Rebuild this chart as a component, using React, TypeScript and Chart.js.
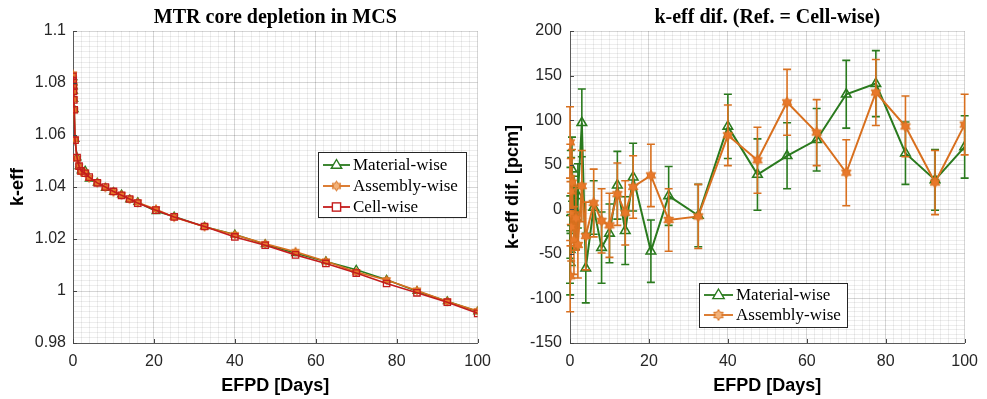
import React, { useEffect, useRef } from 'react';
import { Chart, registerables } from 'chart.js';
Chart.register(...registerables);

// ---------------- data ----------------
const EFPD = [0, 0.04, 0.08, 0.12, 0.2, 0.3, 0.5, 1, 1.5, 2, 3, 4, 6, 8, 10, 12, 14, 16, 20.5, 25, 32.5, 40, 47.5, 55, 62.5, 70, 77.5, 85, 92.5, 100];

const keffCell = [1.0826, 1.0808, 1.0788, 1.0768, 1.0735, 1.0697, 1.058, 1.0513, 1.048, 1.0462, 1.0453, 1.0438, 1.0416, 1.04, 1.0383, 1.0368, 1.0354, 1.0338, 1.0311, 1.0285, 1.0248, 1.0208, 1.0176, 1.0139, 1.0106, 1.0069, 1.0029, 0.9993, 0.9957, 0.9914];
const keffMaterial = [1.08215, 1.0802, 1.0786, 1.0769, 1.0738, 1.0699, 1.05845, 1.0513, 1.0479, 1.04635, 1.04627, 1.04314, 1.04162, 1.03957, 1.03803, 1.03707, 1.03516, 1.03416, 1.03063, 1.02865, 1.02473, 1.02173, 1.01799, 1.0145, 1.01138, 1.00819, 1.00431, 0.99993, 0.99603, 0.9921];
const keffAssembly = [1.08335, 1.08005, 1.07915, 1.07675, 1.0737, 1.0695, 1.0583, 1.05095, 1.0479, 1.0458, 1.04556, 1.0435, 1.04167, 1.03987, 1.03812, 1.03697, 1.03536, 1.03405, 1.03148, 1.02838, 1.02472, 1.02163, 1.01815, 1.0151, 1.01146, 1.00731, 1.00421, 1.00023, 0.996, 0.99235];

const difMaterial = [-45, -60, -20, 10, 30, 20, 45, 0, -10, 15, 97, -66, 2, -43, -27, 27, -24, 36, -47, 15, -7, 93, 39, 60, 78, 129, 141, 63, 33, 70];
const errMaterial = [38, 36, 35, 37, 36, 38, 36, 37, 35, 36, 38, 39, 30, 40, 33, 38, 38, 38, 35, 33, 35, 36, 40, 37, 35, 38, 37, 35, 34, 35];
const difAssembly = [75, -75, 35, -5, 20, -20, 30, -35, -10, -40, 26, -30, 7, -13, -18, 17, -4, 25, 38, -12, -8, 83, 55, 120, 86, 41, 131, 93, 30, 95];
const errAssembly = [40, 40, 38, 36, 37, 38, 37, 38, 36, 37, 40, 38, 38, 36, 36, 35, 36, 35, 35, 35, 36, 34, 37, 37, 37, 37, 37, 34, 36, 34];

const X_MAJOR = [0, 20, 40, 60, 80, 100];
const KEFF_MAJOR = [0.98, 1, 1.02, 1.04, 1.06, 1.08, 1.1];
const DIF_MAJOR = [-150, -100, -50, 0, 50, 100, 150, 200];

const SERIES = ['Material-wise', 'Assembly-wise', 'Cell-wise'];

// ---------------- styles ----------------
const GREEN = '#2a7a1e';
const ORANGE = '#d8701f';
const ORANGE_FILL = '#e8782a';
const RED = '#c41c1c';
const TEXT = '#262626';
const SANS = "'Liberation Sans', Arial, sans-serif";
const SERIF = "'Liberation Serif', 'Times New Roman', serif";

function hexagram(r: number, fill: string, stroke: string) {
  const c = document.createElement('canvas');
  const s = Math.ceil(r * 2 + 3);
  c.width = s;
  c.height = s;
  const g = c.getContext('2d')!;
  g.beginPath();
  for (let k = 0; k < 12; k++) {
    const ang = -Math.PI / 2 + (k * Math.PI) / 6;
    const rr = k % 2 === 0 ? r : r * 0.577;
    g.lineTo(s / 2 + rr * Math.cos(ang), s / 2 + rr * Math.sin(ang));
  }
  g.closePath();
  g.fillStyle = fill;
  g.fill();
  g.strokeStyle = stroke;
  g.lineWidth = 1;
  g.stroke();
  return c;
}

const near = (v: number, arr: number[]) => arr.some((a) => Math.abs(a - v) < 1e-9);

const errorBarPlugin = {
  id: 'errorBars',
  beforeDatasetDraw(chart: any, args: any) {
    const ds = chart.data.datasets[args.index];
    if (!ds.errors) return;
    const xs = chart.scales.x;
    const ys = chart.scales.y;
    const ctx = chart.ctx;
    const a = chart.chartArea;
    ctx.save();
    ctx.beginPath();
    ctx.rect(a.left - 6, a.top, a.right - a.left + 12, a.bottom - a.top);
    ctx.clip();
    ctx.strokeStyle = ds.borderColor;
    ctx.lineWidth = 1.6;
    ds.data.forEach((p: any, i: number) => {
      const px = xs.getPixelForValue(p.x);
      const yt = ys.getPixelForValue(p.y + ds.errors[i]);
      const yb = ys.getPixelForValue(p.y - ds.errors[i]);
      ctx.beginPath();
      ctx.moveTo(px, yt);
      ctx.lineTo(px, yb);
      ctx.moveTo(px - 4, yt);
      ctx.lineTo(px + 4, yt);
      ctx.moveTo(px - 4, yb);
      ctx.lineTo(px + 4, yb);
      ctx.stroke();
    });
    ctx.restore();
  },
};

const tickMarkPlugin = {
  id: 'tickMarks',
  afterDatasetsDraw(chart: any, _args: any, opts: any) {
    const ctx = chart.ctx;
    const a = chart.chartArea;
    const xs = chart.scales.x;
    const ys = chart.scales.y;
    ctx.save();
    ctx.strokeStyle = '#444';
    ctx.lineWidth = 1;
    ctx.beginPath();
    opts.xMajor.forEach((v: number) => {
      const px = Math.round(xs.getPixelForValue(v)) + 0.5;
      ctx.moveTo(px, a.bottom);
      ctx.lineTo(px, a.bottom - 4);
    });
    opts.yMajor.forEach((v: number) => {
      const py = Math.round(ys.getPixelForValue(v)) + 0.5;
      ctx.moveTo(a.left, py);
      ctx.lineTo(a.left + 4, py);
    });
    ctx.stroke();
    ctx.restore();
  },
};

const decorPlugin = {
  id: 'decor',
  afterDraw(chart: any, _args: any, opts: any) {
    const ctx = chart.ctx;
    const a = chart.chartArea;
    // title
    ctx.save();
    ctx.fillStyle = '#000';
    ctx.font = `bold 20px ${SERIF}`;
    ctx.textAlign = 'center';
    ctx.textBaseline = 'middle';
    ctx.fillText(opts.title, (a.left + a.right) / 2, 18);
    // legend
    const L = opts.legend;
    ctx.fillStyle = '#fff';
    ctx.fillRect(L.x, L.y, L.w, L.h);
    ctx.strokeStyle = TEXT;
    ctx.lineWidth = 1;
    ctx.strokeRect(L.x + 0.5, L.y + 0.5, L.w - 1, L.h - 1);
    ctx.font = `${L.fontSize}px ${SERIF}`;
    ctx.textAlign = 'left';
    L.items.forEach((it: any, i: number) => {
      const cy = L.y + L.pad + i * L.rowH + L.rowH / 2;
      const x0 = L.x + 5;
      const x1 = x0 + L.lineLen;
      ctx.strokeStyle = it.color;
      ctx.lineWidth = 1.8;
      ctx.beginPath();
      ctx.moveTo(x0, cy);
      ctx.lineTo(x1, cy);
      ctx.stroke();
      const mx = (x0 + x1) / 2;
      const r = L.markerR;
      ctx.lineWidth = 1.4;
      if (it.style === 'triangle') {
        ctx.fillStyle = '#fff';
        ctx.beginPath();
        ctx.moveTo(mx, cy - r);
        ctx.lineTo(mx + r * 0.95, cy + r * 0.6);
        ctx.lineTo(mx - r * 0.95, cy + r * 0.6);
        ctx.closePath();
        ctx.fill();
        ctx.stroke();
      } else if (it.style === 'rect') {
        ctx.fillStyle = '#fff';
        ctx.fillRect(mx - r * 0.75, cy - r * 0.75, r * 1.5, r * 1.5);
        ctx.strokeRect(mx - r * 0.75, cy - r * 0.75, r * 1.5, r * 1.5);
      } else {
        const img = it.image;
        ctx.drawImage(img, mx - img.width / 2, cy - img.height / 2);
      }
      ctx.fillStyle = '#000';
      ctx.textBaseline = 'middle';
      ctx.fillText(it.label, x1 + 3, cy + 1);
    });
    ctx.restore();
  },
};

function axisBase(majors: number[], step: number, min: number, max: number, fmt: (v: number) => string) {
  return {
    type: 'linear',
    min,
    max,
    border: { display: true, color: '#5a5a5a', width: 1 },
    grid: {
      drawTicks: false,
      color: (c: any) => (c.tick && near(c.tick.value, majors) ? 'rgba(0,0,0,0.16)' : 'rgba(0,0,0,0.07)'),
      lineWidth: 1,
    },
    ticks: {
      stepSize: step,
      maxTicksLimit: 1000,
      autoSkip: false,
      maxRotation: 0,
      color: TEXT,
      font: { family: SANS, size: 16 },
      callback: (v: number) => (near(v, majors) ? fmt(v) : ''),
    },
  } as any;
}

const axisTitleFont = { family: SANS, size: 18, weight: 'bold' };

function makeX() {
  const xAxis = axisBase(X_MAJOR, 2, 0, 100, (v) => String(Math.round(v)));
  xAxis.afterFit = (s: any) => { s.height = 56; };
  xAxis.ticks.padding = 9;
  xAxis.title = { display: true, text: 'EFPD [Days]', color: '#000', font: axisTitleFont, padding: { top: 0, bottom: 2 } };
  return xAxis;
}

function LeftChart() {
  const ref = useRef<HTMLCanvasElement>(null);
  useEffect(() => {
    const hex = hexagram(4.5, ORANGE_FILL, ORANGE);
    const hexL = hexagram(5, '#f2b27a', ORANGE);
    const pts = (ys: number[]) => EFPD.map((x, i) => ({ x, y: ys[i] }));
    const yAxis = axisBase(KEFF_MAJOR, 0.002, 0.98, 1.1, (v) => String(Number(v.toFixed(3))));
    yAxis.afterFit = (s: any) => { s.width = 73; };
    yAxis.ticks.padding = 7;
    yAxis.title = { display: true, text: 'k-eff', color: '#000', font: axisTitleFont, padding: { top: 7, bottom: 0 } };
    const chart = new Chart(ref.current!, {
      type: 'line',
      data: {
        datasets: [
          { label: SERIES[0], data: pts(keffMaterial), borderColor: GREEN, borderWidth: 1.6, pointStyle: 'triangle', pointRadius: 4.5, pointBorderColor: GREEN, pointBackgroundColor: 'rgba(0,0,0,0)', pointBorderWidth: 1.3, order: 2 },
          { label: SERIES[1], data: pts(keffAssembly), borderColor: ORANGE, borderWidth: 1.6, pointStyle: hex, pointRadius: 4.5, order: 1 },
          { label: SERIES[2], data: pts(keffCell), borderColor: RED, borderWidth: 1.6, pointStyle: 'rect', pointRadius: 4.5, pointBorderColor: RED, pointBackgroundColor: 'rgba(0,0,0,0)', pointBorderWidth: 1.3, order: 0 },
        ],
      },
      options: {
        animation: false,
        responsive: false,
        parsing: false as any,
        layout: { padding: { top: 31, right: 20, left: 0, bottom: 0 } },
        scales: { x: makeX(), y: yAxis },
        plugins: {
          legend: { display: false },
          tooltip: { enabled: false },
          tickMarks: { xMajor: X_MAJOR, yMajor: KEFF_MAJOR },
          decor: {
            title: 'MTR core depletion in MCS',
            legend: {
              x: 318, y: 152, w: 149, h: 66, pad: 2.5, rowH: 21, lineLen: 27, markerR: 5.5, fontSize: 17,
              items: [
                { label: SERIES[0], color: GREEN, style: 'triangle' },
                { label: SERIES[1], color: ORANGE, style: 'hex', image: hexL },
                { label: SERIES[2], color: RED, style: 'rect' },
              ],
            },
          },
        } as any,
      },
      plugins: [tickMarkPlugin, decorPlugin],
    } as any);
    return () => chart.destroy();
  }, []);
  return <canvas ref={ref} width={500} height={399} />;
}

function RightChart() {
  const ref = useRef<HTMLCanvasElement>(null);
  useEffect(() => {
    const hex = hexagram(5.5, ORANGE_FILL, ORANGE);
    const hexL = hexagram(5.5, '#f2b27a', ORANGE);
    const pts = (ys: number[]) => EFPD.map((x, i) => ({ x, y: ys[i] }));
    const yAxis = axisBase(DIF_MAJOR, 5, -150, 200, (v) => String(Math.round(v)));
    yAxis.afterFit = (s: any) => { s.width = 70; };
    yAxis.ticks.padding = 8;
    yAxis.title = { display: true, text: 'k-eff dif. [pcm]', color: '#000', font: axisTitleFont, padding: { top: 2, bottom: 0 } };
    const chart = new Chart(ref.current!, {
      type: 'line',
      data: {
        datasets: [
          { label: SERIES[0], data: pts(difMaterial), errors: errMaterial, borderColor: GREEN, borderWidth: 2, pointStyle: 'triangle', pointRadius: 5.5, pointBorderColor: GREEN, pointBackgroundColor: 'rgba(0,0,0,0)', pointBorderWidth: 1.6, order: 1 },
          { label: SERIES[1], data: pts(difAssembly), errors: errAssembly, borderColor: ORANGE, borderWidth: 2, pointStyle: hex, pointRadius: 5.5, order: 0 },
        ],
      },
      options: {
        animation: false,
        responsive: false,
        parsing: false as any,
        layout: { padding: { top: 31, right: 15, left: 0, bottom: 0 } },
        scales: { x: makeX(), y: yAxis },
        plugins: {
          legend: { display: false },
          tooltip: { enabled: false },
          tickMarks: { xMajor: X_MAJOR, yMajor: DIF_MAJOR },
          decor: {
            title: 'k-eff dif. (Ref. = Cell-wise)',
            legend: {
              x: 199, y: 283, w: 149, h: 45, pad: 2, rowH: 20, lineLen: 29, markerR: 6, fontSize: 17,
              items: [
                { label: SERIES[0], color: GREEN, style: 'triangle' },
                { label: SERIES[1], color: ORANGE, style: 'hex', image: hexL },
              ],
            },
          },
        } as any,
      },
      plugins: [errorBarPlugin, tickMarkPlugin, decorPlugin],
    } as any);
    return () => chart.destroy();
  }, []);
  return <canvas ref={ref} width={487} height={399} />;
}

export default function App() {
  return (
    <div style={{ position: 'fixed', left: 0, top: 0, width: 987, height: 399, background: '#fff', overflow: 'hidden' }}>
      <div style={{ position: 'absolute', left: 0, top: 0, width: 500, height: 399 }}>
        <LeftChart />
      </div>
      <div style={{ position: 'absolute', left: 500, top: 0, width: 487, height: 399 }}>
        <RightChart />
      </div>
    </div>
  );
}
